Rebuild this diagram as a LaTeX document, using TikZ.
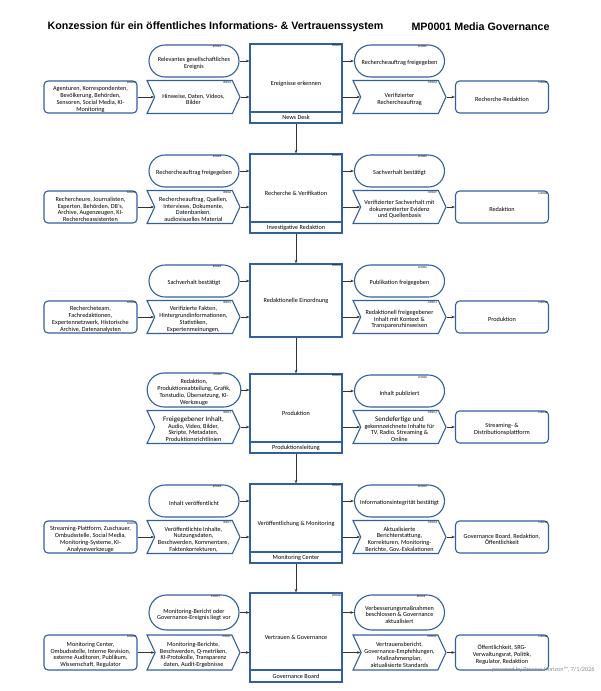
\documentclass[tikz,border=0pt]{standalone}
\usepackage{fontspec}
\setmainfont{Carlito}
\newfontfamily\headfont{Liberation Sans}
\usetikzlibrary{arrows.meta,shapes.misc,shapes.symbols,positioning}
\definecolor{procblue}{RGB}{50,95,160}
\newcommand{\boxfont}{\fontsize{6.2}{6.7}\selectfont}
\newcommand{\idfont}{\fontsize{2.8}{3}\selectfont}
\newcommand{\idgap}{\rule{0pt}{9pt}}

\begin{document}
\begin{tikzpicture}[x=1pt, y=-1pt,
    evt/.style={rounded rectangle, draw=procblue, line width=1.1pt, minimum width=92pt, minimum height=32pt, inner xsep=1pt, inner ysep=0.5pt, align=center, font=\boxfont},
    sup/.style={draw=procblue, line width=1.1pt, rounded corners=4pt, minimum width=93pt, minimum height=32pt, inner xsep=1pt, inner ysep=0.5pt, align=center, font=\boxfont},
    flow/.style={signal, signal from=west, signal to=east, signal pointer angle=130, draw=procblue, line width=1.1pt, minimum width=93pt, minimum height=33pt, inner xsep=1pt, inner ysep=0.5pt, align=center, font=\boxfont},
    proc/.style={draw=procblue, line width=1.1pt, minimum width=92pt, minimum height=79pt, align=center, font=\boxfont},
    lane/.style={draw=procblue, line width=1.1pt, minimum width=92pt, minimum height=11pt, inner sep=0pt, font=\boxfont, anchor=south},
    arr/.style={-{Stealth[length=3.5pt]}, black!80, line width=0.6pt},
    idtag/.style={font=\idfont, inner sep=1.5pt, anchor=north east},
    title/.style={font=\headfont\bfseries\fontsize{10.7}{13}\selectfont, anchor=west}
]
\useasboundingbox (0,0) rectangle (600,691);

\node[title] (T1) at (44,27) {Konzession für ein öffentliches Informations- \& Vertrauenssystem};
\node[title] (T2) at (408,27) {MP0001 Media Governance};

% Ereignisse erkennen
\node[proc, label={[idtag]north east:PR0001}] (P1) at (296,83.5) {Ereignisse erkennen};
\node[lane] (L1) at (P1.south) {News Desk};
\node[evt, label={[idtag]north east:ET0001}] (E1) at (194,61) {\idgap Relevantes gesellschaftliches\\Ereignis};
\node[sup, label={[idtag]north east:SU0001}] (S1) at (90.5,97) {\idgap Agenturen, Korrespondenten,\\Bevölkerung, Behörden,\\Sensoren, Social Media, KI-\\Monitoring};
\node[flow, label={[idtag]north east:IP0002}] (I1) at (193.5,97) {\idgap Hinweise, Daten, Videos,\\Bilder};
\node[evt, label={[idtag]north east:EC0002}] (R1) at (399.5,61) {\idgap Rechercheauftrag freigegeben};
\node[flow, label={[idtag]north east:OP0003}] (O1) at (399.5,97) {\idgap Verifizierter\\Rechercheauftrag};
\node[sup, label={[idtag]north east:CU0004}] (C1) at (502,97) {\idgap Recherche-Redaktion};

% Recherche & Verifikation
\node[proc, label={[idtag]north east:PR0002}] (P2) at (296,193.5) {Recherche \& Verifikation};
\node[lane] (L2) at (P2.south) {Investigative Redaktion};
\node[evt, label={[idtag]north east:ET0003}] (E2) at (194,171) {\idgap Rechercheauftrag freigegeben};
\node[sup, label={[idtag]north east:SU0005}] (S2) at (90.5,207) {\idgap Rechercheure, Journalisten,\\Experten, Behörden, DB's,\\Archive, Augenzeugen, KI-\\Rechercheassistenten};
\node[flow, label={[idtag]north east:IP0006}] (I2) at (193.5,207) {\idgap Rechercheauftrag, Quellen,\\Interviews, Dokumente,\\Datenbanken,\\audiovisuelles Material};
\node[evt, label={[idtag]north east:EC0004}] (R2) at (399.5,171) {\idgap Sachverhalt bestätigt};
\node[flow, label={[idtag]north east:OP0007}] (O2) at (399.5,207) {\idgap Verifizierter Sachverhalt mit\\dokumentierter Evidenz\\und Quellenbasis};
\node[sup, label={[idtag]north east:CU0008}] (C2) at (502,207) {\idgap Redaktion};

% Redaktionelle Einordnung
\node[proc, minimum height=73pt, label={[idtag]north east:PR0003}] (P3) at (296,300.5) {Redaktionelle Einordnung};
\node[evt, label={[idtag]north east:ET0005}] (E3) at (194,281) {\idgap Sachverhalt bestätigt};
\node[sup, label={[idtag]north east:SU0009}] (S3) at (90.5,317) {\idgap Rechercheteam,\\Fachredaktionen,\\Expertennetzwerk, Historische\\Archive, Datenanalysten};
\node[flow, label={[idtag]north east:IP0010}] (I3) at (193.5,317) {\idgap Verifizierte Fakten,\\Hintergrundinformationen,\\Statistiken,\\Expertenmeinungen,};
\node[evt, label={[idtag]north east:EC0006}] (R3) at (399.5,281) {\idgap Publikation freigegeben};
\node[flow, label={[idtag]north east:OP0011}] (O3) at (399.5,317) {\idgap Redaktionell freigegebener\\Inhalt mit Kontext \&\\Transparenzhinweisen};
\node[sup, label={[idtag]north east:CU0012}] (C3) at (502,317) {\idgap Produktion};

% Produktion
\node[proc, label={[idtag]north east:PR0004}] (P4) at (296,413.5) {Produktion};
\node[lane] (L4) at (P4.south) {Produktionsleitung};
\node[evt, minimum height=34pt, label={[idtag]north east:ET0007}] (E4) at (194,390) {\idgap Redaktion,\\Produktionsabteilung, Grafik,\\Tonstudio, Übersetzung, KI-\\Werkzeuge};
\node[flow, label={[idtag]north east:IP0013}] (I4) at (193.5,427) {\idgap{\fontsize{7}{7.4}\selectfont Freigegebener Inhalt,}\\Audio, Video, Bilder,\\Skripte, Metadaten,\\Produktionsrichtlinien};
\node[evt, label={[idtag]north east:EC0008}] (R4) at (399.5,391) {\idgap Inhalt publiziert};
\node[flow, label={[idtag]north east:OP0014}] (O4) at (399.5,427) {\idgap{\fontsize{7}{7.4}\selectfont Sendefertige und}\\gekennzeichnete Inhalte für\\TV, Radio, Streaming \&\\Online};
\node[sup, label={[idtag]north east:CU0015}] (C4) at (502,427) {\idgap Streaming- \&\\Distributionsplattform};

% Veroeffentlichung & Monitoring
\node[proc, label={[idtag]north east:PR0005}] (P5) at (296,523.5) {Veröffentlichung \& Monitoring};
\node[lane] (L5) at (P5.south) {Monitoring Center};
\node[evt, label={[idtag]north east:ET0009}] (E5) at (194,501) {\idgap Inhalt veröffentlicht};
\node[sup, label={[idtag]north east:SU0016}] (S5) at (90.5,537) {\idgap Streaming-Plattform, Zuschauer,\\Ombudsstelle, Social Media,\\Monitoring-Systeme, KI-\\Analysewerkzeuge};
\node[flow, label={[idtag]north east:IP0017}] (I5) at (193.5,537) {\idgap Veröffentlichte Inhalte,\\Nutzungsdaten,\\Beschwerden, Kommentare,\\Faktenkorrekturen,};
\node[evt, label={[idtag]north east:EC0010}] (R5) at (399.5,501) {\idgap Informationsintegrität bestätigt};
\node[flow, label={[idtag]north east:OP0018}] (O5) at (399.5,537) {\idgap Aktualisierte\\Berichterstattung,\\Korrekturen, Monitoring-\\Berichte, Gov.-Eskalationen};
\node[sup, label={[idtag]north east:CU0019}] (C5) at (502,537) {\idgap Governance Board, Redaktion,\\Öffentlichkeit};

% Vertrauen & Governance
\node[proc, minimum height=89pt, label={[idtag]north east:PR0006}] (P6) at (296,637.5) {Vertrauen \& Governance};
\node[lane, minimum height=12pt] (L6) at (P6.south) {Governance Board};
\node[evt, minimum height=35pt, label={[idtag]north east:ET0011}] (E6) at (194,612.5) {\idgap Monitoring-Bericht oder\\Governance-Ereignis liegt vor};
\node[sup, minimum height=35pt, label={[idtag]north east:SU0020}] (S6) at (90.5,652.5) {\idgap Monitoring Center,\\Ombudsstelle, Interne Revision,\\externe Auditoren, Publikum,\\Wissenschaft, Regulator};
\node[flow, minimum height=35pt, label={[idtag]north east:IP0021}] (I6) at (193.5,652.5) {\idgap Monitoring-Berichte,\\Beschwerden, Q-metriken,\\KI-Protokolle, Transparenz\\daten, Audit-Ergebnisse};
\node[evt, minimum height=35pt, label={[idtag]north east:EC0012}] (R6) at (399.5,612.5) {\idgap Verbesserungsmaßnahmen\\beschlossen \& Governance\\aktualisiert};
\node[flow, minimum height=35pt, label={[idtag]north east:OP0022}] (O6) at (399.5,652.5) {\idgap Vertrauensbericht,\\Governance-Empfehlungen,\\Maßnahmenplan,\\aktualisierte Standards};
\node[sup, minimum height=35pt, label={[idtag]north east:CU0023}] (C6) at (502,652.5) {\idgap Öffentlichkeit, SRG-\\Verwaltungsrat, Politik,\\Regulator, Redaktion};

\node[font=\boxfont, text=black!45, anchor=east] (W) at (598,670) {powered by Process Horizon™, 7/1/2026};

% Verbindungen
\draw[arr] (S1.east) -- (I1.west);
\draw[arr] (E1.east) -- (E1.east -| P1.west);
\draw[arr] (I1.east) -- (I1.east -| P1.west);
\draw[arr] (P1.east |- R1.west) -- (R1.west);
\draw[arr] (P1.east |- O1.west) -- (O1.west);
\draw[arr] (O1.east) -- (C1.west);
\draw[arr] (L1.south) -- (P2.north);

\draw[arr] (S2.east) -- (I2.west);
\draw[arr] (E2.east) -- (E2.east -| P2.west);
\draw[arr] (I2.east) -- (I2.east -| P2.west);
\draw[arr] (P2.east |- R2.west) -- (R2.west);
\draw[arr] (P2.east |- O2.west) -- (O2.west);
\draw[arr] (O2.east) -- (C2.west);
\draw[arr] (L2.south) -- (P3.north);

\draw[arr] (S3.east) -- (I3.west);
\draw[arr] (E3.east) -- (E3.east -| P3.west);
\draw[arr] (I3.east) -- (I3.east -| P3.west);
\draw[arr] (P3.east |- R3.west) -- (R3.west);
\draw[arr] (P3.east |- O3.west) -- (O3.west);
\draw[arr] (O3.east) -- (C3.west);
\draw[arr] (P3.south) -- (P4.north);

\draw[arr] (E4.east) -- (E4.east -| P4.west);
\draw[arr] (I4.east) -- (I4.east -| P4.west);
\draw[arr] (P4.east |- R4.west) -- (R4.west);
\draw[arr] (P4.east |- O4.west) -- (O4.west);
\draw[arr] (O4.east) -- (C4.west);
\draw[arr] (L4.south) -- (P5.north);

\draw[arr] (S5.east) -- (I5.west);
\draw[arr] (E5.east) -- (E5.east -| P5.west);
\draw[arr] (I5.east) -- (I5.east -| P5.west);
\draw[arr] (P5.east |- R5.west) -- (R5.west);
\draw[arr] (P5.east |- O5.west) -- (O5.west);
\draw[arr] (O5.east) -- (C5.west);
\draw[arr] (L5.south) -- (P6.north);

\draw[arr] (S6.east) -- (I6.west);
\draw[arr] (E6.east) -- (E6.east -| P6.west);
\draw[arr] (I6.east) -- (I6.east -| P6.west);
\draw[arr] (P6.east |- R6.west) -- (R6.west);
\draw[arr] (P6.east |- O6.west) -- (O6.west);
\draw[arr] (O6.east) -- (C6.west);
\end{tikzpicture}
\end{document}
